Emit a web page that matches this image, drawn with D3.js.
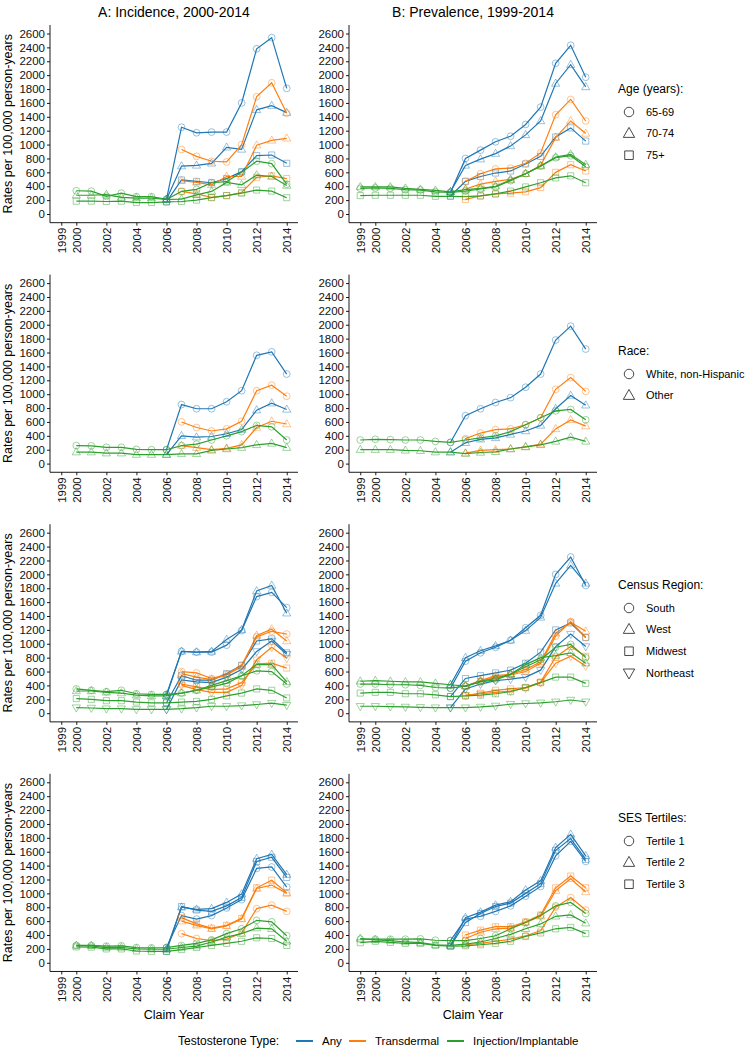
<!DOCTYPE html>
<html><head><meta charset="utf-8">
<script src="https://cdn.jsdelivr.net/npm/d3@7"></script>
<style>body{margin:0;background:#fff} text{font-family:"Liberation Sans",Arial,sans-serif;fill:#000}</style>
</head><body><svg id="c" width="749" height="1050"></svg>
<script>
// ---------- axes / categories ----------
const yearsA=[2000,2001,2002,2003,2004,2005,2006,2007,2008,2009,2010,2011,2012,2013,2014];
const yearsB=[1999,2000,2001,2002,2003,2004,2005,2006,2007,2008,2009,2010,2011,2012,2013,2014];
const yTicks=[0,200,400,600,800,1000,1200,1400,1600,1800,2000,2200,2400,2600];
const xTicks=[1999,2000,2002,2004,2006,2008,2010,2012,2014];
const typeNames=["Any","Transdermal","Injection/Implantable"];
const typeColors=["#1f77b4","#ff7f0e","#2ca02c"];
const n=null;

// ---------- Row 1: Age ----------
const ageGroups=["65-69","70-74","75+"];
const ageShapes=["circle","triangle","square"];
const incAgeAny=[[n,n,n,n,n,n,210,1250,1170,1180,1180,1600,2380,2540,1810],
                 [n,n,n,n,n,n,210,690,700,730,960,930,1500,1560,1460],
                 [n,n,n,n,n,n,175,490,470,450,510,610,840,850,730]];
const incAgeTrans=[[n,n,n,n,n,n,n,930,830,760,750,1000,1690,1890,1450],
                   [n,n,n,n,n,n,n,480,455,420,540,540,990,1060,1090],
                   [n,n,n,n,n,n,n,325,290,240,265,310,530,550,510]];
const incAgeInj=[[335,330,255,300,250,250,210,325,355,450,465,600,760,725,430],
                 [270,270,280,240,230,230,210,215,275,325,455,420,560,540,410],
                 [185,185,180,185,165,165,175,180,200,235,265,300,345,330,235]];
const prevAgeAny=[[n,n,n,n,n,n,310,800,920,1040,1120,1290,1540,2170,2430,1970],
                  [n,n,n,n,n,n,320,700,790,870,980,1140,1340,1880,2150,1830],
                  [n,n,n,n,n,n,260,470,540,590,620,720,830,1110,1240,1050]];
const prevAgeTrans=[[n,n,n,n,n,n,n,470,580,650,660,730,880,1430,1650,1340],
                    [n,n,n,n,n,n,n,360,430,470,500,580,700,1100,1340,1160],
                    [n,n,n,n,n,n,n,210,260,290,300,320,380,600,710,620]];
const prevAgeInj=[[370,375,370,350,345,320,310,330,360,390,480,580,690,810,840,680],
                  [390,390,390,370,355,340,320,350,370,400,490,580,690,820,860,710],
                  [265,270,270,270,270,255,255,250,260,290,330,390,450,520,550,450]];

// ---------- Row 2: Race ----------
const raceGroups=["White, non-Hispanic","Other"];
const raceShapes=["circle","triangle"];
const incRaceAny=[[n,n,n,n,n,n,200,850,790,790,890,1050,1560,1610,1290],
                  [n,n,n,n,n,n,130,400,380,390,430,490,770,870,780]];
const incRaceTrans=[[n,n,n,n,n,n,n,600,520,470,500,610,1050,1130,970],
                    [n,n,n,n,n,n,n,260,230,200,220,270,520,610,570]];
const incRaceInj=[[260,255,235,235,205,200,200,260,280,340,400,460,550,530,340],
                  [165,165,150,150,130,130,130,140,140,190,210,230,270,290,230]];
const prevRaceAny=[[n,n,n,n,n,n,305,690,790,880,950,1100,1290,1780,1980,1650],
                   [n,n,n,n,n,n,165,300,350,370,420,470,550,790,980,840]];
const prevRaceTrans=[[n,n,n,n,n,n,n,360,440,490,500,560,660,1070,1240,1040],
                     [n,n,n,n,n,n,n,150,190,200,210,240,280,500,630,540]];
const prevRaceInj=[[340,350,345,340,340,320,305,340,370,400,460,560,660,760,780,630],
                   [200,200,200,190,185,165,165,145,160,170,210,240,270,320,380,320]];

// ---------- Row 3: Census Region ----------
const regionGroups=["South","West","Midwest","Northeast"];
const regionShapes=["circle","triangle","square","down"];
const incRegAny=[[n,n,n,n,n,n,270,890,880,880,980,1190,1680,1740,1520],
                 [n,n,n,n,n,n,250,890,880,890,1060,1200,1760,1840,1440],
                 [n,n,n,n,n,n,150,540,475,475,570,690,1040,1070,870],
                 [n,n,n,n,n,n,55,480,450,440,520,630,890,1040,850]];
const incRegTrans=[[n,n,n,n,n,n,n,600,580,500,560,690,1100,1180,1140],
                   [n,n,n,n,n,n,n,570,520,485,550,670,1120,1210,1040],
                   [n,n,n,n,n,n,n,420,380,340,350,440,710,720,650],
                   [n,n,n,n,n,n,n,400,340,300,300,400,770,950,790]];
const incRegInj=[[350,330,310,330,280,270,270,290,330,380,430,540,610,600,420],
                 [320,320,300,290,260,250,250,290,330,400,470,540,700,700,450],
                 [210,200,180,180,160,150,150,160,170,200,250,290,350,330,220],
                 [80,75,65,65,55,55,55,65,80,100,100,110,125,145,115]];
const prevRegAny=[[n,n,n,n,n,n,360,750,870,950,1050,1230,1410,2000,2250,1840],
                  [n,n,n,n,n,n,410,800,900,970,1050,1190,1380,1870,2130,1870],
                  [n,n,n,n,n,n,240,500,540,580,620,720,880,1200,1300,1090],
                  [n,n,n,n,n,n,80,350,420,470,490,520,620,960,1140,960]];
const prevRegTrans=[[n,n,n,n,n,n,n,390,460,520,550,600,720,1110,1320,1090],
                    [n,n,n,n,n,n,n,390,470,540,560,630,740,1150,1310,1180],
                    [n,n,n,n,n,n,n,250,290,330,350,370,450,810,960,820],
                    [n,n,n,n,n,n,n,260,280,300,320,360,440,720,820,680]];
const prevRegInj=[[420,420,410,410,400,370,360,390,450,480,560,670,770,950,990,800],
                  [460,470,460,450,450,430,410,390,460,500,560,700,800,830,870,720],
                  [290,300,300,280,280,265,240,250,260,280,310,370,440,520,520,430],
                  [100,100,95,90,85,80,80,80,90,105,130,140,150,165,190,165]];

// ---------- Row 4: SES Tertiles ----------
const sesGroups=["Tertile 1","Tertile 2","Tertile 3"];
const sesShapes=["circle","triangle","square"];
const incSesAny=[[n,n,n,n,n,n,220,680,630,680,790,910,1360,1380,1090],
                 [n,n,n,n,n,n,195,800,770,780,870,990,1500,1560,1270],
                 [n,n,n,n,n,n,165,810,760,740,820,940,1460,1520,1230]];
const incSesTrans=[[n,n,n,n,n,n,n,420,350,320,340,430,780,830,740],
                   [n,n,n,n,n,n,n,600,540,490,530,630,1070,1120,1000],
                   [n,n,n,n,n,n,n,650,560,500,540,640,1080,1190,1010]];
const incSesInj=[[250,250,240,245,220,215,220,250,280,330,420,490,610,590,390],
                 [250,245,220,220,200,195,195,220,240,300,370,420,500,490,310],
                 [230,225,200,200,170,165,165,190,220,250,280,310,360,350,250]];
const prevSesAny=[[n,n,n,n,n,n,320,630,670,740,820,960,1100,1540,1750,1460],
                  [n,n,n,n,n,n,250,650,730,830,880,1050,1180,1660,1850,1540],
                  [n,n,n,n,n,n,240,580,710,810,860,1000,1140,1620,1790,1490]];
const prevSesTrans=[[n,n,n,n,n,n,n,260,280,310,340,390,460,800,940,760],
                    [n,n,n,n,n,n,n,350,440,490,500,580,670,1040,1210,1020],
                    [n,n,n,n,n,n,n,400,470,520,520,590,690,1080,1250,1080]];
const prevSesInj=[[340,340,340,340,345,325,320,320,350,390,490,580,680,820,870,710],
                  [350,330,320,300,290,260,250,270,300,350,410,490,560,670,690,570],
                  [290,310,295,280,280,250,240,245,260,280,310,380,430,490,510,420]];

// ---------- layout ----------
const rows=[
  {title:"Age (years):",groups:ageGroups,shapes:ageShapes,inc:[incAgeAny,incAgeTrans,incAgeInj],prev:[prevAgeAny,prevAgeTrans,prevAgeInj],legY:89},
  {title:"Race:",groups:raceGroups,shapes:raceShapes,inc:[incRaceAny,incRaceTrans,incRaceInj],prev:[prevRaceAny,prevRaceTrans,prevRaceInj],legY:351},
  {title:"Census Region:",groups:regionGroups,shapes:regionShapes,inc:[incRegAny,incRegTrans,incRegInj],prev:[prevRegAny,prevRegTrans,prevRegInj],legY:585},
  {title:"SES Tertiles:",groups:sesGroups,shapes:sesShapes,inc:[incSesAny,incSesTrans,incSesInj],prev:[prevSesAny,prevSesTrans,prevSesInj],legY:818}
];
const svg=d3.select("#c");
const rowStep=249.6;
const colLeft=[50,349], colW=248;

function shapePath(shape,s){
  if(shape==="circle"){const r=s/2;return `M${r},0A${r},${r} 0 1,1 ${-r},0A${r},${r} 0 1,1 ${r},0Z`;}
  if(shape==="square"){const h=s*0.45;return `M${-h},${-h}H${h}V${h}H${-h}Z`;}
  const w=s*0.6, hh=s*1.05;
  if(shape==="triangle") return `M0,${-hh*0.62}L${w},${hh*0.38}L${-w},${hh*0.38}Z`;
  return `M0,${hh*0.62}L${w},${-hh*0.38}L${-w},${-hh*0.38}Z`;
}

rows.forEach((row,ri)=>{
  const y=d3.scaleLinear().domain([0,2600]).range([214+ri*rowStep,33.5+ri*rowStep]);
  const yTop=y(2722), yBot=y(-125);
  [0,1].forEach(ci=>{
    const years=ci===0?yearsA:yearsB;
    const data=ci===0?row.inc:row.prev;
    const x=d3.scaleLinear().domain([1998.25,2014.75]).range([colLeft[ci],colLeft[ci]+colW]);
    const g=svg.append("g");
    // axes
    const ya=g.append("g").attr("transform",`translate(${colLeft[ci]},0)`)
      .call(d3.axisLeft(y).tickValues(yTicks).tickSize(3).tickPadding(2).tickFormat(d3.format("d")));
    ya.select(".domain").attr("d",`M0,${yTop}V${yBot}`);
    const xa=g.append("g").attr("transform",`translate(0,${yBot})`)
      .call(d3.axisBottom(x).tickValues(xTicks).tickSize(3).tickFormat(d3.format("d")));
    xa.select(".domain").attr("d",`M${colLeft[ci]},0H${colLeft[ci]+colW}`);
    xa.selectAll("text").attr("transform","rotate(-90)").attr("text-anchor","end")
      .attr("x",-5).attr("y",0).attr("dy","0.35em");
    [ya,xa].forEach(a=>{
      a.selectAll("text").style("font-size","11.5px").style("fill","#111").style("font-family","'Liberation Sans',Arial,sans-serif");
      a.selectAll("line,path").attr("stroke","#000").attr("stroke-width",0.9);
    });
    // lines
    const line=d3.line().defined(d=>d.v!=null).x(d=>x(d.t)).y(d=>y(d.v));
    data.forEach((series,ti)=>{
      series.forEach(vals=>{
        const pts=years.map((t,i)=>({t,v:vals[i]}));
        g.append("path").datum(pts).attr("d",line).attr("fill","none")
          .attr("stroke",typeColors[ti]).attr("stroke-width",1.2);
      });
    });
    data.forEach((series,ti)=>{
      series.forEach((vals,gi)=>{
        const pts=years.map((t,i)=>({t,v:vals[i]})).filter(d=>d.v!=null);
        g.selectAll(null).data(pts).enter().append("path")
          .attr("d",shapePath(row.shapes[gi],6.8))
          .attr("transform",d=>`translate(${x(d.t)},${y(d.v)})`)
          .attr("fill","none").attr("stroke",typeColors[ti]).attr("stroke-opacity",0.5).attr("stroke-width",0.9);
      });
    });
    if(ci===0){
      g.append("text").attr("transform",`translate(12,${(y(0)+y(2600))/2}) rotate(-90)`)
        .attr("text-anchor","middle").style("font-size","12.5px").text("Rates per 100,000 person-years");
    }
  });
  // legend
  const lg=svg.append("g");
  lg.append("text").attr("x",618).attr("y",row.legY).attr("dy","0.35em").style("font-size","12px").text(row.title);
  row.groups.forEach((gname,gi)=>{
    const yy=row.legY+23+gi*21.6;
    lg.append("path").attr("d",shapePath(row.shapes[gi],9.5)).attr("transform",`translate(629,${yy})`)
      .attr("fill","none").attr("stroke","#333").attr("stroke-width",0.9);
    lg.append("text").attr("x",646).attr("y",yy).attr("dy","0.35em").style("font-size","11px").text(gname);
  });
});

// titles
svg.append("text").attr("x",174).attr("y",17).attr("text-anchor","middle").style("font-size","14px").text("A: Incidence, 2000-2014");
svg.append("text").attr("x",473).attr("y",17).attr("text-anchor","middle").style("font-size","14px").text("B: Prevalence, 1999-2014");
svg.append("text").attr("x",174).attr("y",1019).attr("text-anchor","middle").style("font-size","12.5px").text("Claim Year");
svg.append("text").attr("x",473).attr("y",1019).attr("text-anchor","middle").style("font-size","12.5px").text("Claim Year");

// bottom legend
const bl=svg.append("g");
bl.append("text").attr("x",178).attr("y",1041).attr("dy","0.35em").style("font-size","12px").text("Testosterone Type:");
const legX=[296,349,447];
typeNames.forEach((t,i)=>{
  bl.append("line").attr("x1",legX[i]).attr("x2",legX[i]+17).attr("y1",1041).attr("y2",1041)
    .attr("stroke",typeColors[i]).attr("stroke-width",2);
  bl.append("text").attr("x",legX[i]+26).attr("y",1041).attr("dy","0.35em").style("font-size","11.5px").text(t);
});
</script></body></html>
